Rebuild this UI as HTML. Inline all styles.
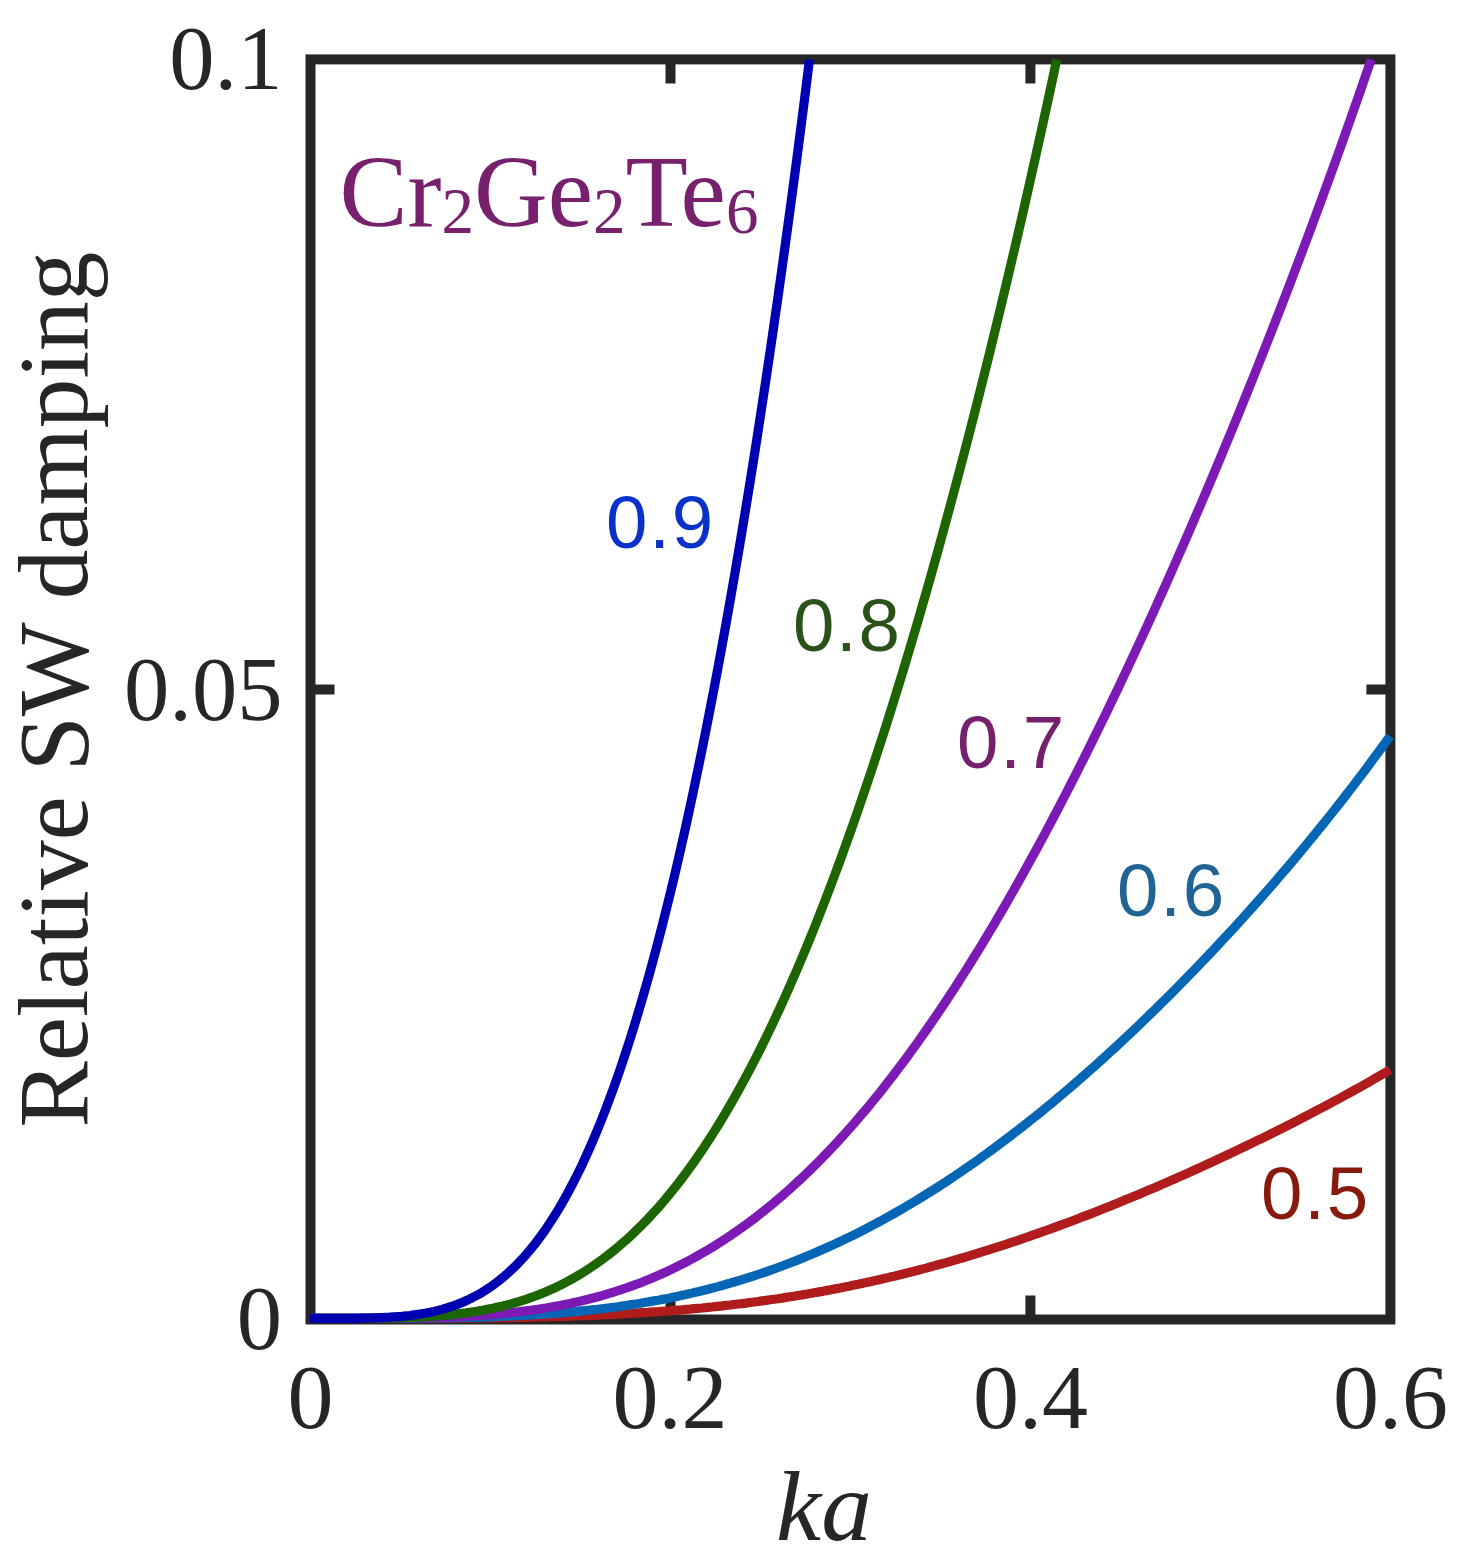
<!DOCTYPE html>
<html><head><meta charset="utf-8"><title>Relative SW damping</title>
<style>
html,body{margin:0;padding:0;background:#fff;}
svg{display:block;}
text{font-family:"Liberation Serif","Times New Roman",serif;fill:#262626;}
.t{font-size:92px;}
.s text,.s{font-family:"Liberation Sans",Arial,sans-serif;font-size:74.5px;letter-spacing:1.8px;}
</style></head><body>
<svg width="1459" height="1564" viewBox="0 0 1459 1564">
<rect width="1459" height="1564" fill="#fff"/>
<g stroke="#262626" stroke-width="10" fill="none" stroke-linecap="butt">
<rect x="310.5" y="59.4" width="1079.9" height="1260.1"/>
<path d="M670.5,1319.5 v-24 M1030.4,1319.5 v-24 M670.5,59.4 v24 M1030.4,59.4 v24 M310.5,689.5 h24 M1390.4,689.5 h-24"/>
</g>
<g fill="none" stroke-width="9.2" stroke-linejoin="round" stroke-linecap="butt">
<path d="M310.0,1318.4 L314.0,1318.4 L318.0,1318.4 L322.0,1318.4 L326.0,1318.4 L330.0,1318.4 L334.0,1318.4 L338.0,1318.4 L342.0,1318.4 L346.0,1318.4 L350.0,1318.4 L354.0,1318.4 L358.0,1318.4 L362.0,1318.4 L366.0,1318.4 L370.0,1318.4 L374.0,1318.4 L378.0,1318.4 L382.0,1318.4 L386.0,1318.4 L390.0,1318.4 L394.0,1318.4 L398.0,1318.4 L402.0,1318.4 L406.0,1318.4 L410.0,1318.3 L414.0,1318.3 L418.0,1318.3 L422.0,1318.3 L426.0,1318.3 L430.0,1318.3 L434.0,1318.3 L438.0,1318.3 L442.0,1318.2 L446.0,1318.2 L450.0,1318.2 L454.0,1318.2 L458.0,1318.1 L462.0,1318.1 L466.0,1318.1 L470.0,1318.1 L474.0,1318.0 L478.0,1318.0 L482.0,1317.9 L486.0,1317.9 L490.0,1317.9 L494.0,1317.8 L498.0,1317.8 L502.0,1317.7 L506.0,1317.6 L510.0,1317.6 L514.0,1317.5 L518.0,1317.4 L522.0,1317.4 L526.0,1317.3 L530.0,1317.2 L534.0,1317.1 L538.0,1317.0 L542.0,1317.0 L546.0,1316.9 L550.0,1316.7 L554.0,1316.6 L558.0,1316.5 L562.0,1316.4 L566.0,1316.3 L570.0,1316.2 L574.0,1316.0 L578.0,1315.9 L582.0,1315.7 L586.0,1315.6 L590.0,1315.4 L594.0,1315.3 L598.0,1315.1 L602.0,1314.9 L606.0,1314.7 L610.0,1314.5 L614.0,1314.3 L618.0,1314.1 L622.0,1313.9 L626.0,1313.7 L630.0,1313.5 L634.0,1313.2 L638.0,1313.0 L642.0,1312.7 L646.0,1312.5 L650.0,1312.2 L654.0,1311.9 L658.0,1311.7 L662.0,1311.4 L666.0,1311.1 L670.0,1310.8 L674.0,1310.4 L678.0,1310.1 L682.0,1309.8 L686.0,1309.4 L690.0,1309.1 L694.0,1308.7 L698.0,1308.3 L702.0,1308.0 L706.0,1307.6 L710.0,1307.2 L714.0,1306.7 L718.0,1306.3 L722.0,1305.9 L726.0,1305.4 L730.0,1305.0 L734.0,1304.5 L738.0,1304.0 L742.0,1303.6 L746.0,1303.1 L750.0,1302.5 L754.0,1302.0 L758.0,1301.5 L762.0,1300.9 L766.0,1300.4 L770.0,1299.8 L774.0,1299.2 L778.0,1298.7 L782.0,1298.1 L786.0,1297.4 L790.0,1296.8 L794.0,1296.2 L798.0,1295.5 L802.0,1294.9 L806.0,1294.2 L810.0,1293.5 L814.0,1292.8 L818.0,1292.1 L822.0,1291.4 L826.0,1290.6 L830.0,1289.9 L834.0,1289.1 L838.0,1288.4 L842.0,1287.6 L846.0,1286.8 L850.0,1286.0 L854.0,1285.1 L858.0,1284.3 L862.0,1283.4 L866.0,1282.6 L870.0,1281.7 L874.0,1280.8 L878.0,1279.9 L882.0,1279.0 L886.0,1278.1 L890.0,1277.1 L894.0,1276.2 L898.0,1275.2 L902.0,1274.2 L906.0,1273.2 L910.0,1272.2 L914.0,1271.2 L918.0,1270.2 L922.0,1269.1 L926.0,1268.1 L930.0,1267.0 L934.0,1265.9 L938.0,1264.8 L942.0,1263.7 L946.0,1262.6 L950.0,1261.5 L954.0,1260.3 L958.0,1259.2 L962.0,1258.0 L966.0,1256.8 L970.0,1255.6 L974.0,1254.4 L978.0,1253.2 L982.0,1251.9 L986.0,1250.7 L990.0,1249.4 L994.0,1248.1 L998.0,1246.9 L1002.0,1245.6 L1006.0,1244.3 L1010.0,1242.9 L1014.0,1241.6 L1018.0,1240.3 L1022.0,1238.9 L1026.0,1237.5 L1030.0,1236.1 L1034.0,1234.7 L1038.0,1233.3 L1042.0,1231.9 L1046.0,1230.5 L1050.0,1229.1 L1054.0,1227.6 L1058.0,1226.1 L1062.0,1224.7 L1066.0,1223.2 L1070.0,1221.7 L1074.0,1220.2 L1078.0,1218.7 L1082.0,1217.1 L1086.0,1215.6 L1090.0,1214.1 L1094.0,1212.5 L1098.0,1210.9 L1102.0,1209.3 L1106.0,1207.8 L1110.0,1206.2 L1114.0,1204.5 L1118.0,1202.9 L1122.0,1201.3 L1126.0,1199.6 L1130.0,1198.0 L1134.0,1196.3 L1138.0,1194.7 L1142.0,1193.0 L1146.0,1191.3 L1150.0,1189.6 L1154.0,1187.9 L1158.0,1186.2 L1162.0,1184.4 L1166.0,1182.7 L1170.0,1180.9 L1174.0,1179.2 L1178.0,1177.4 L1182.0,1175.6 L1186.0,1173.9 L1190.0,1172.1 L1194.0,1170.3 L1198.0,1168.5 L1202.0,1166.6 L1206.0,1164.8 L1210.0,1163.0 L1214.0,1161.1 L1218.0,1159.3 L1222.0,1157.4 L1226.0,1155.5 L1230.0,1153.6 L1234.0,1151.8 L1238.0,1149.9 L1242.0,1147.9 L1246.0,1146.0 L1250.0,1144.1 L1254.0,1142.2 L1258.0,1140.2 L1262.0,1138.3 L1266.0,1136.3 L1270.0,1134.3 L1274.0,1132.3 L1278.0,1130.3 L1282.0,1128.3 L1286.0,1126.3 L1290.0,1124.3 L1294.0,1122.3 L1298.0,1120.2 L1302.0,1118.2 L1306.0,1116.1 L1310.0,1114.0 L1314.0,1111.9 L1318.0,1109.8 L1322.0,1107.7 L1326.0,1105.6 L1330.0,1103.5 L1334.0,1101.3 L1338.0,1099.2 L1342.0,1097.0 L1346.0,1094.8 L1350.0,1092.6 L1354.0,1090.4 L1358.0,1088.2 L1362.0,1085.9 L1366.0,1083.7 L1370.0,1081.4 L1374.0,1079.1 L1378.0,1076.8 L1382.0,1074.5 L1386.0,1072.2 L1390.0,1069.8" stroke="#b01b1b"/>
<path d="M310.0,1318.4 L314.0,1318.4 L318.0,1318.4 L322.0,1318.4 L326.0,1318.4 L330.0,1318.4 L334.0,1318.4 L338.0,1318.4 L342.0,1318.4 L346.0,1318.4 L350.0,1318.4 L354.0,1318.4 L358.0,1318.4 L362.0,1318.4 L366.0,1318.4 L370.0,1318.4 L374.0,1318.4 L378.0,1318.4 L382.0,1318.4 L386.0,1318.3 L390.0,1318.3 L394.0,1318.3 L398.0,1318.3 L402.0,1318.3 L406.0,1318.3 L410.0,1318.2 L414.0,1318.2 L418.0,1318.2 L422.0,1318.1 L426.0,1318.1 L430.0,1318.1 L434.0,1318.0 L438.0,1318.0 L442.0,1317.9 L446.0,1317.9 L450.0,1317.8 L454.0,1317.7 L458.0,1317.6 L462.0,1317.6 L466.0,1317.5 L470.0,1317.4 L474.0,1317.3 L478.0,1317.2 L482.0,1317.1 L486.0,1316.9 L490.0,1316.8 L494.0,1316.7 L498.0,1316.5 L502.0,1316.4 L506.0,1316.2 L510.0,1316.0 L514.0,1315.8 L518.0,1315.7 L522.0,1315.4 L526.0,1315.2 L530.0,1315.0 L534.0,1314.8 L538.0,1314.5 L542.0,1314.3 L546.0,1314.0 L550.0,1313.7 L554.0,1313.4 L558.0,1313.1 L562.0,1312.8 L566.0,1312.4 L570.0,1312.1 L574.0,1311.7 L578.0,1311.3 L582.0,1310.9 L586.0,1310.5 L590.0,1310.1 L594.0,1309.7 L598.0,1309.2 L602.0,1308.7 L606.0,1308.2 L610.0,1307.7 L614.0,1307.2 L618.0,1306.7 L622.0,1306.1 L626.0,1305.5 L630.0,1304.9 L634.0,1304.3 L638.0,1303.7 L642.0,1303.0 L646.0,1302.3 L650.0,1301.6 L654.0,1300.9 L658.0,1300.2 L662.0,1299.4 L666.0,1298.7 L670.0,1297.9 L674.0,1297.0 L678.0,1296.2 L682.0,1295.3 L686.0,1294.5 L690.0,1293.6 L694.0,1292.6 L698.0,1291.7 L702.0,1290.7 L706.0,1289.7 L710.0,1288.7 L714.0,1287.6 L718.0,1286.6 L722.0,1285.5 L726.0,1284.3 L730.0,1283.2 L734.0,1282.0 L738.0,1280.8 L742.0,1279.6 L746.0,1278.4 L750.0,1277.1 L754.0,1275.8 L758.0,1274.5 L762.0,1273.2 L766.0,1271.8 L770.0,1270.4 L774.0,1269.0 L778.0,1267.5 L782.0,1266.0 L786.0,1264.5 L790.0,1263.0 L794.0,1261.4 L798.0,1259.9 L802.0,1258.3 L806.0,1256.6 L810.0,1254.9 L814.0,1253.3 L818.0,1251.5 L822.0,1249.8 L826.0,1248.0 L830.0,1246.2 L834.0,1244.4 L838.0,1242.5 L842.0,1240.6 L846.0,1238.7 L850.0,1236.8 L854.0,1234.8 L858.0,1232.8 L862.0,1230.8 L866.0,1228.7 L870.0,1226.6 L874.0,1224.5 L878.0,1222.4 L882.0,1220.2 L886.0,1218.0 L890.0,1215.8 L894.0,1213.6 L898.0,1211.3 L902.0,1209.0 L906.0,1206.6 L910.0,1204.3 L914.0,1201.9 L918.0,1199.5 L922.0,1197.0 L926.0,1194.5 L930.0,1192.0 L934.0,1189.5 L938.0,1187.0 L942.0,1184.4 L946.0,1181.8 L950.0,1179.1 L954.0,1176.5 L958.0,1173.8 L962.0,1171.0 L966.0,1168.3 L970.0,1165.5 L974.0,1162.7 L978.0,1159.9 L982.0,1157.0 L986.0,1154.1 L990.0,1151.2 L994.0,1148.3 L998.0,1145.3 L1002.0,1142.3 L1006.0,1139.3 L1010.0,1136.3 L1014.0,1133.2 L1018.0,1130.1 L1022.0,1127.0 L1026.0,1123.9 L1030.0,1120.7 L1034.0,1117.5 L1038.0,1114.3 L1042.0,1111.1 L1046.0,1107.8 L1050.0,1104.5 L1054.0,1101.2 L1058.0,1097.8 L1062.0,1094.5 L1066.0,1091.1 L1070.0,1087.7 L1074.0,1084.2 L1078.0,1080.8 L1082.0,1077.3 L1086.0,1073.8 L1090.0,1070.2 L1094.0,1066.7 L1098.0,1063.1 L1102.0,1059.5 L1106.0,1055.8 L1110.0,1052.2 L1114.0,1048.5 L1118.0,1044.8 L1122.0,1041.1 L1126.0,1037.4 L1130.0,1033.6 L1134.0,1029.8 L1138.0,1026.0 L1142.0,1022.2 L1146.0,1018.3 L1150.0,1014.4 L1154.0,1010.5 L1158.0,1006.6 L1162.0,1002.6 L1166.0,998.7 L1170.0,994.7 L1174.0,990.7 L1178.0,986.6 L1182.0,982.6 L1186.0,978.5 L1190.0,974.4 L1194.0,970.3 L1198.0,966.1 L1202.0,961.9 L1206.0,957.8 L1210.0,953.5 L1214.0,949.3 L1218.0,945.0 L1222.0,940.7 L1226.0,936.4 L1230.0,932.1 L1234.0,927.8 L1238.0,923.4 L1242.0,919.0 L1246.0,914.5 L1250.0,910.1 L1254.0,905.6 L1258.0,901.1 L1262.0,896.6 L1266.0,892.0 L1270.0,887.5 L1274.0,882.9 L1278.0,878.2 L1282.0,873.6 L1286.0,868.9 L1290.0,864.2 L1294.0,859.5 L1298.0,854.7 L1302.0,849.9 L1306.0,845.1 L1310.0,840.2 L1314.0,835.3 L1318.0,830.4 L1322.0,825.5 L1326.0,820.5 L1330.0,815.5 L1334.0,810.5 L1338.0,805.4 L1342.0,800.3 L1346.0,795.1 L1350.0,790.0 L1354.0,784.8 L1358.0,779.5 L1362.0,774.2 L1366.0,768.9 L1370.0,763.5 L1374.0,758.1 L1378.0,752.7 L1382.0,747.2 L1386.0,741.7 L1390.0,736.1" stroke="#0466b5"/>
<path d="M310.0,1318.4 L314.0,1318.4 L318.0,1318.4 L322.0,1318.4 L326.0,1318.4 L330.0,1318.4 L334.0,1318.4 L338.0,1318.4 L342.0,1318.4 L346.0,1318.4 L350.0,1318.4 L354.0,1318.4 L358.0,1318.4 L362.0,1318.4 L366.0,1318.4 L370.0,1318.3 L374.0,1318.3 L378.0,1318.3 L382.0,1318.3 L386.0,1318.3 L390.0,1318.2 L394.0,1318.2 L398.0,1318.2 L402.0,1318.1 L406.0,1318.1 L410.0,1318.0 L414.0,1317.9 L418.0,1317.9 L422.0,1317.8 L426.0,1317.7 L430.0,1317.6 L434.0,1317.5 L438.0,1317.4 L442.0,1317.2 L446.0,1317.1 L450.0,1317.0 L454.0,1316.8 L458.0,1316.6 L462.0,1316.4 L466.0,1316.2 L470.0,1316.0 L474.0,1315.7 L478.0,1315.5 L482.0,1315.2 L486.0,1314.9 L490.0,1314.6 L494.0,1314.3 L498.0,1313.9 L502.0,1313.6 L506.0,1313.2 L510.0,1312.8 L514.0,1312.3 L518.0,1311.9 L522.0,1311.4 L526.0,1310.9 L530.0,1310.4 L534.0,1309.8 L538.0,1309.2 L542.0,1308.6 L546.0,1308.0 L550.0,1307.3 L554.0,1306.6 L558.0,1305.9 L562.0,1305.1 L566.0,1304.3 L570.0,1303.5 L574.0,1302.6 L578.0,1301.7 L582.0,1300.8 L586.0,1299.8 L590.0,1298.8 L594.0,1297.8 L598.0,1296.7 L602.0,1295.6 L606.0,1294.4 L610.0,1293.2 L614.0,1292.0 L618.0,1290.7 L622.0,1289.4 L626.0,1288.0 L630.0,1286.6 L634.0,1285.2 L638.0,1283.7 L642.0,1282.2 L646.0,1280.6 L650.0,1279.0 L654.0,1277.3 L658.0,1275.6 L662.0,1273.8 L666.0,1272.0 L670.0,1270.1 L674.0,1268.2 L678.0,1266.2 L682.0,1264.2 L686.0,1262.1 L690.0,1260.0 L694.0,1257.8 L698.0,1255.6 L702.0,1253.3 L706.0,1251.0 L710.0,1248.6 L714.0,1246.2 L718.0,1243.7 L722.0,1241.1 L726.0,1238.5 L730.0,1235.9 L734.0,1233.1 L738.0,1230.4 L742.0,1227.5 L746.0,1224.6 L750.0,1221.7 L754.0,1218.7 L758.0,1215.6 L762.0,1212.4 L766.0,1209.3 L770.0,1206.0 L774.0,1202.7 L778.0,1199.3 L782.0,1195.9 L786.0,1192.4 L790.0,1188.8 L794.0,1185.2 L798.0,1181.5 L802.0,1177.8 L806.0,1174.0 L810.0,1170.1 L814.0,1166.2 L818.0,1162.2 L822.0,1158.2 L826.0,1154.0 L830.0,1149.9 L834.0,1145.6 L838.0,1141.3 L842.0,1136.9 L846.0,1132.5 L850.0,1128.0 L854.0,1123.5 L858.0,1118.8 L862.0,1114.1 L866.0,1109.4 L870.0,1104.6 L874.0,1099.7 L878.0,1094.8 L882.0,1089.8 L886.0,1084.7 L890.0,1079.5 L894.0,1074.4 L898.0,1069.1 L902.0,1063.8 L906.0,1058.4 L910.0,1052.9 L914.0,1047.4 L918.0,1041.8 L922.0,1036.2 L926.0,1030.5 L930.0,1024.7 L934.0,1018.9 L938.0,1013.0 L942.0,1007.1 L946.0,1001.1 L950.0,995.0 L954.0,988.9 L958.0,982.7 L962.0,976.4 L966.0,970.1 L970.0,963.7 L974.0,957.3 L978.0,950.8 L982.0,944.3 L986.0,937.7 L990.0,931.0 L994.0,924.3 L998.0,917.5 L1002.0,910.6 L1006.0,903.7 L1010.0,896.8 L1014.0,889.7 L1018.0,882.7 L1022.0,875.5 L1026.0,868.3 L1030.0,861.1 L1034.0,853.8 L1038.0,846.5 L1042.0,839.1 L1046.0,831.6 L1050.0,824.1 L1054.0,816.5 L1058.0,808.9 L1062.0,801.2 L1066.0,793.5 L1070.0,785.7 L1074.0,777.9 L1078.0,770.0 L1082.0,762.0 L1086.0,754.1 L1090.0,746.0 L1094.0,737.9 L1098.0,729.8 L1102.0,721.6 L1106.0,713.4 L1110.0,705.1 L1114.0,696.8 L1118.0,688.4 L1122.0,679.9 L1126.0,671.5 L1130.0,662.9 L1134.0,654.4 L1138.0,645.7 L1142.0,637.1 L1146.0,628.3 L1150.0,619.6 L1154.0,610.8 L1158.0,601.9 L1162.0,593.0 L1166.0,584.1 L1170.0,575.1 L1174.0,566.0 L1178.0,556.9 L1182.0,547.8 L1186.0,538.6 L1190.0,529.4 L1194.0,520.1 L1198.0,510.8 L1202.0,501.5 L1206.0,492.1 L1210.0,482.6 L1214.0,473.1 L1218.0,463.6 L1222.0,454.0 L1226.0,444.3 L1230.0,434.7 L1234.0,424.9 L1238.0,415.2 L1242.0,405.3 L1246.0,395.5 L1250.0,385.5 L1254.0,375.6 L1258.0,365.6 L1262.0,355.5 L1266.0,345.4 L1270.0,335.2 L1274.0,325.0 L1278.0,314.8 L1282.0,304.5 L1286.0,294.1 L1290.0,283.7 L1294.0,273.2 L1298.0,262.7 L1302.0,252.1 L1306.0,241.5 L1310.0,230.8 L1314.0,220.0 L1318.0,209.2 L1322.0,198.3 L1326.0,187.4 L1330.0,176.4 L1334.0,165.4 L1338.0,154.3 L1342.0,143.1 L1346.0,131.8 L1350.0,120.5 L1354.0,109.1 L1358.0,97.7 L1362.0,86.2 L1366.0,74.6 L1370.0,62.9 L1371.2,59.5" stroke="#7d1ab5"/>
<path d="M310.0,1318.4 L314.0,1318.4 L318.0,1318.4 L322.0,1318.4 L326.0,1318.4 L330.0,1318.4 L334.0,1318.4 L338.0,1318.4 L342.0,1318.4 L346.0,1318.4 L350.0,1318.4 L354.0,1318.4 L358.0,1318.3 L362.0,1318.3 L366.0,1318.3 L370.0,1318.3 L374.0,1318.2 L378.0,1318.2 L382.0,1318.1 L386.0,1318.1 L390.0,1318.0 L394.0,1317.9 L398.0,1317.8 L402.0,1317.7 L406.0,1317.6 L410.0,1317.4 L414.0,1317.3 L418.0,1317.1 L422.0,1316.9 L426.0,1316.7 L430.0,1316.4 L434.0,1316.1 L438.0,1315.8 L442.0,1315.5 L446.0,1315.2 L450.0,1314.8 L454.0,1314.4 L458.0,1313.9 L462.0,1313.4 L466.0,1312.9 L470.0,1312.3 L474.0,1311.7 L478.0,1311.1 L482.0,1310.4 L486.0,1309.6 L490.0,1308.8 L494.0,1308.0 L498.0,1307.1 L502.0,1306.2 L506.0,1305.2 L510.0,1304.1 L514.0,1303.0 L518.0,1301.8 L522.0,1300.6 L526.0,1299.3 L530.0,1297.9 L534.0,1296.5 L538.0,1294.9 L542.0,1293.4 L546.0,1291.7 L550.0,1290.0 L554.0,1288.2 L558.0,1286.3 L562.0,1284.3 L566.0,1282.2 L570.0,1280.1 L574.0,1277.9 L578.0,1275.5 L582.0,1273.1 L586.0,1270.6 L590.0,1268.0 L594.0,1265.3 L598.0,1262.5 L602.0,1259.6 L606.0,1256.6 L610.0,1253.5 L614.0,1250.3 L618.0,1247.0 L622.0,1243.6 L626.0,1240.1 L630.0,1236.5 L634.0,1232.7 L638.0,1228.8 L642.0,1224.9 L646.0,1220.8 L650.0,1216.5 L654.0,1212.2 L658.0,1207.8 L662.0,1203.2 L666.0,1198.5 L670.0,1193.6 L674.0,1188.7 L678.0,1183.6 L682.0,1178.4 L686.0,1173.0 L690.0,1167.6 L694.0,1162.0 L698.0,1156.2 L702.0,1150.4 L706.0,1144.3 L710.0,1138.2 L714.0,1131.9 L718.0,1125.5 L722.0,1118.9 L726.0,1112.2 L730.0,1105.4 L734.0,1098.4 L738.0,1091.3 L742.0,1084.1 L746.0,1076.6 L750.0,1069.1 L754.0,1061.4 L758.0,1053.6 L762.0,1045.6 L766.0,1037.5 L770.0,1029.2 L774.0,1020.8 L778.0,1012.2 L782.0,1003.5 L786.0,994.7 L790.0,985.7 L794.0,976.5 L798.0,967.2 L802.0,957.8 L806.0,948.2 L810.0,938.5 L814.0,928.6 L818.0,918.6 L822.0,908.4 L826.0,898.1 L830.0,887.6 L834.0,877.0 L838.0,866.2 L842.0,855.3 L846.0,844.3 L850.0,833.1 L854.0,821.7 L858.0,810.2 L862.0,798.6 L866.0,786.8 L870.0,774.9 L874.0,762.8 L878.0,750.6 L882.0,738.3 L886.0,725.8 L890.0,713.1 L894.0,700.3 L898.0,687.4 L902.0,674.3 L906.0,661.1 L910.0,647.8 L914.0,634.3 L918.0,620.7 L922.0,606.9 L926.0,593.0 L930.0,578.9 L934.0,564.7 L938.0,550.4 L942.0,535.9 L946.0,521.3 L950.0,506.5 L954.0,491.6 L958.0,476.6 L962.0,461.4 L966.0,446.1 L970.0,430.7 L974.0,415.1 L978.0,399.3 L982.0,383.4 L986.0,367.4 L990.0,351.3 L994.0,334.9 L998.0,318.5 L1002.0,301.9 L1006.0,285.1 L1010.0,268.3 L1014.0,251.2 L1018.0,234.0 L1022.0,216.7 L1026.0,199.2 L1030.0,181.6 L1034.0,163.8 L1038.0,145.8 L1042.0,127.7 L1046.0,109.4 L1050.0,91.0 L1054.0,72.4 L1056.7,59.5" stroke="#1c6501"/>
<path d="M310.0,1318.4 L314.0,1318.4 L318.0,1318.4 L322.0,1318.4 L326.0,1318.4 L330.0,1318.4 L334.0,1318.4 L338.0,1318.4 L342.0,1318.4 L346.0,1318.4 L350.0,1318.3 L354.0,1318.3 L358.0,1318.3 L362.0,1318.2 L366.0,1318.1 L370.0,1318.0 L374.0,1317.9 L378.0,1317.8 L382.0,1317.6 L386.0,1317.4 L390.0,1317.2 L394.0,1316.9 L398.0,1316.6 L402.0,1316.3 L406.0,1315.9 L410.0,1315.5 L414.0,1314.9 L418.0,1314.4 L422.0,1313.7 L426.0,1313.0 L430.0,1312.2 L434.0,1311.4 L438.0,1310.4 L442.0,1309.4 L446.0,1308.2 L450.0,1306.9 L454.0,1305.6 L458.0,1304.1 L462.0,1302.5 L466.0,1300.7 L470.0,1298.9 L474.0,1296.8 L478.0,1294.7 L482.0,1292.4 L486.0,1289.9 L490.0,1287.2 L494.0,1284.4 L498.0,1281.4 L502.0,1278.2 L506.0,1274.8 L510.0,1271.2 L514.0,1267.4 L518.0,1263.4 L522.0,1259.2 L526.0,1254.7 L530.0,1250.0 L534.0,1245.1 L538.0,1239.9 L542.0,1234.5 L546.0,1228.8 L550.0,1222.8 L554.0,1216.6 L558.0,1210.1 L562.0,1203.3 L566.0,1196.2 L570.0,1188.8 L574.0,1181.2 L578.0,1173.2 L582.0,1164.9 L586.0,1156.3 L590.0,1147.4 L594.0,1138.1 L598.0,1128.5 L602.0,1118.6 L606.0,1108.3 L610.0,1097.7 L614.0,1086.8 L618.0,1075.5 L622.0,1063.8 L626.0,1051.7 L630.0,1039.3 L634.0,1026.6 L638.0,1013.4 L642.0,999.9 L646.0,986.0 L650.0,971.7 L654.0,957.0 L658.0,942.0 L662.0,926.5 L666.0,910.7 L670.0,894.4 L674.0,877.8 L678.0,860.7 L682.0,843.3 L686.0,825.4 L690.0,807.1 L694.0,788.4 L698.0,769.3 L702.0,749.8 L706.0,729.9 L710.0,709.5 L714.0,688.8 L718.0,667.6 L722.0,645.9 L726.0,623.9 L730.0,601.4 L734.0,578.5 L738.0,555.1 L742.0,531.3 L746.0,507.1 L750.0,482.4 L754.0,457.2 L758.0,431.7 L762.0,405.6 L766.0,379.1 L770.0,352.1 L774.0,324.7 L778.0,296.8 L782.0,268.4 L786.0,239.5 L790.0,210.2 L794.0,180.3 L798.0,149.9 L802.0,119.0 L806.0,87.6 L809.5,59.5" stroke="#0000b3"/>
</g>
<g class="t" text-anchor="end">
<text transform="translate(282.5,89.4) scale(0.985,1)">0.1</text>
<text transform="translate(282.6,719.6) scale(0.985,1)">0.05</text>
<text transform="translate(282,1349.3) scale(0.985,1)">0</text>
</g>
<g class="t" text-anchor="middle">
<text x="310.5" y="1427.5">0</text>
<text x="670" y="1427.5">0.2</text>
<text x="1030.4" y="1427.5">0.4</text>
<text x="1390.4" y="1427.5">0.6</text>
</g>
<text transform="translate(824,1540.3) scale(1.02,1)" text-anchor="middle" font-size="99.5" font-style="italic">ka</text>
<text transform="translate(87.3,689.5) rotate(-90) scale(1.009,1)" text-anchor="middle" font-size="98.5">Relative SW damping</text>
<text x="339.5" y="225.7" font-size="102" style="fill:#76206e">Cr<tspan font-size="65" dy="7">2</tspan><tspan dy="-7">Ge</tspan><tspan font-size="65" dy="7">2</tspan><tspan dy="-7">Te</tspan><tspan font-size="65" dy="7">6</tspan></text>
<g class="s">
<text x="606.1" y="548.3" style="fill:#0a32c8">0.9</text>
<text x="792.9" y="651.2" style="fill:#2a5218">0.8</text>
<text x="957.1" y="768" style="fill:#75206d">0.7</text>
<text x="1117" y="916.3" style="fill:#206496">0.6</text>
<text x="1261" y="1219.3" style="fill:#871a0a">0.5</text>
</g>
</svg>
</body></html>
